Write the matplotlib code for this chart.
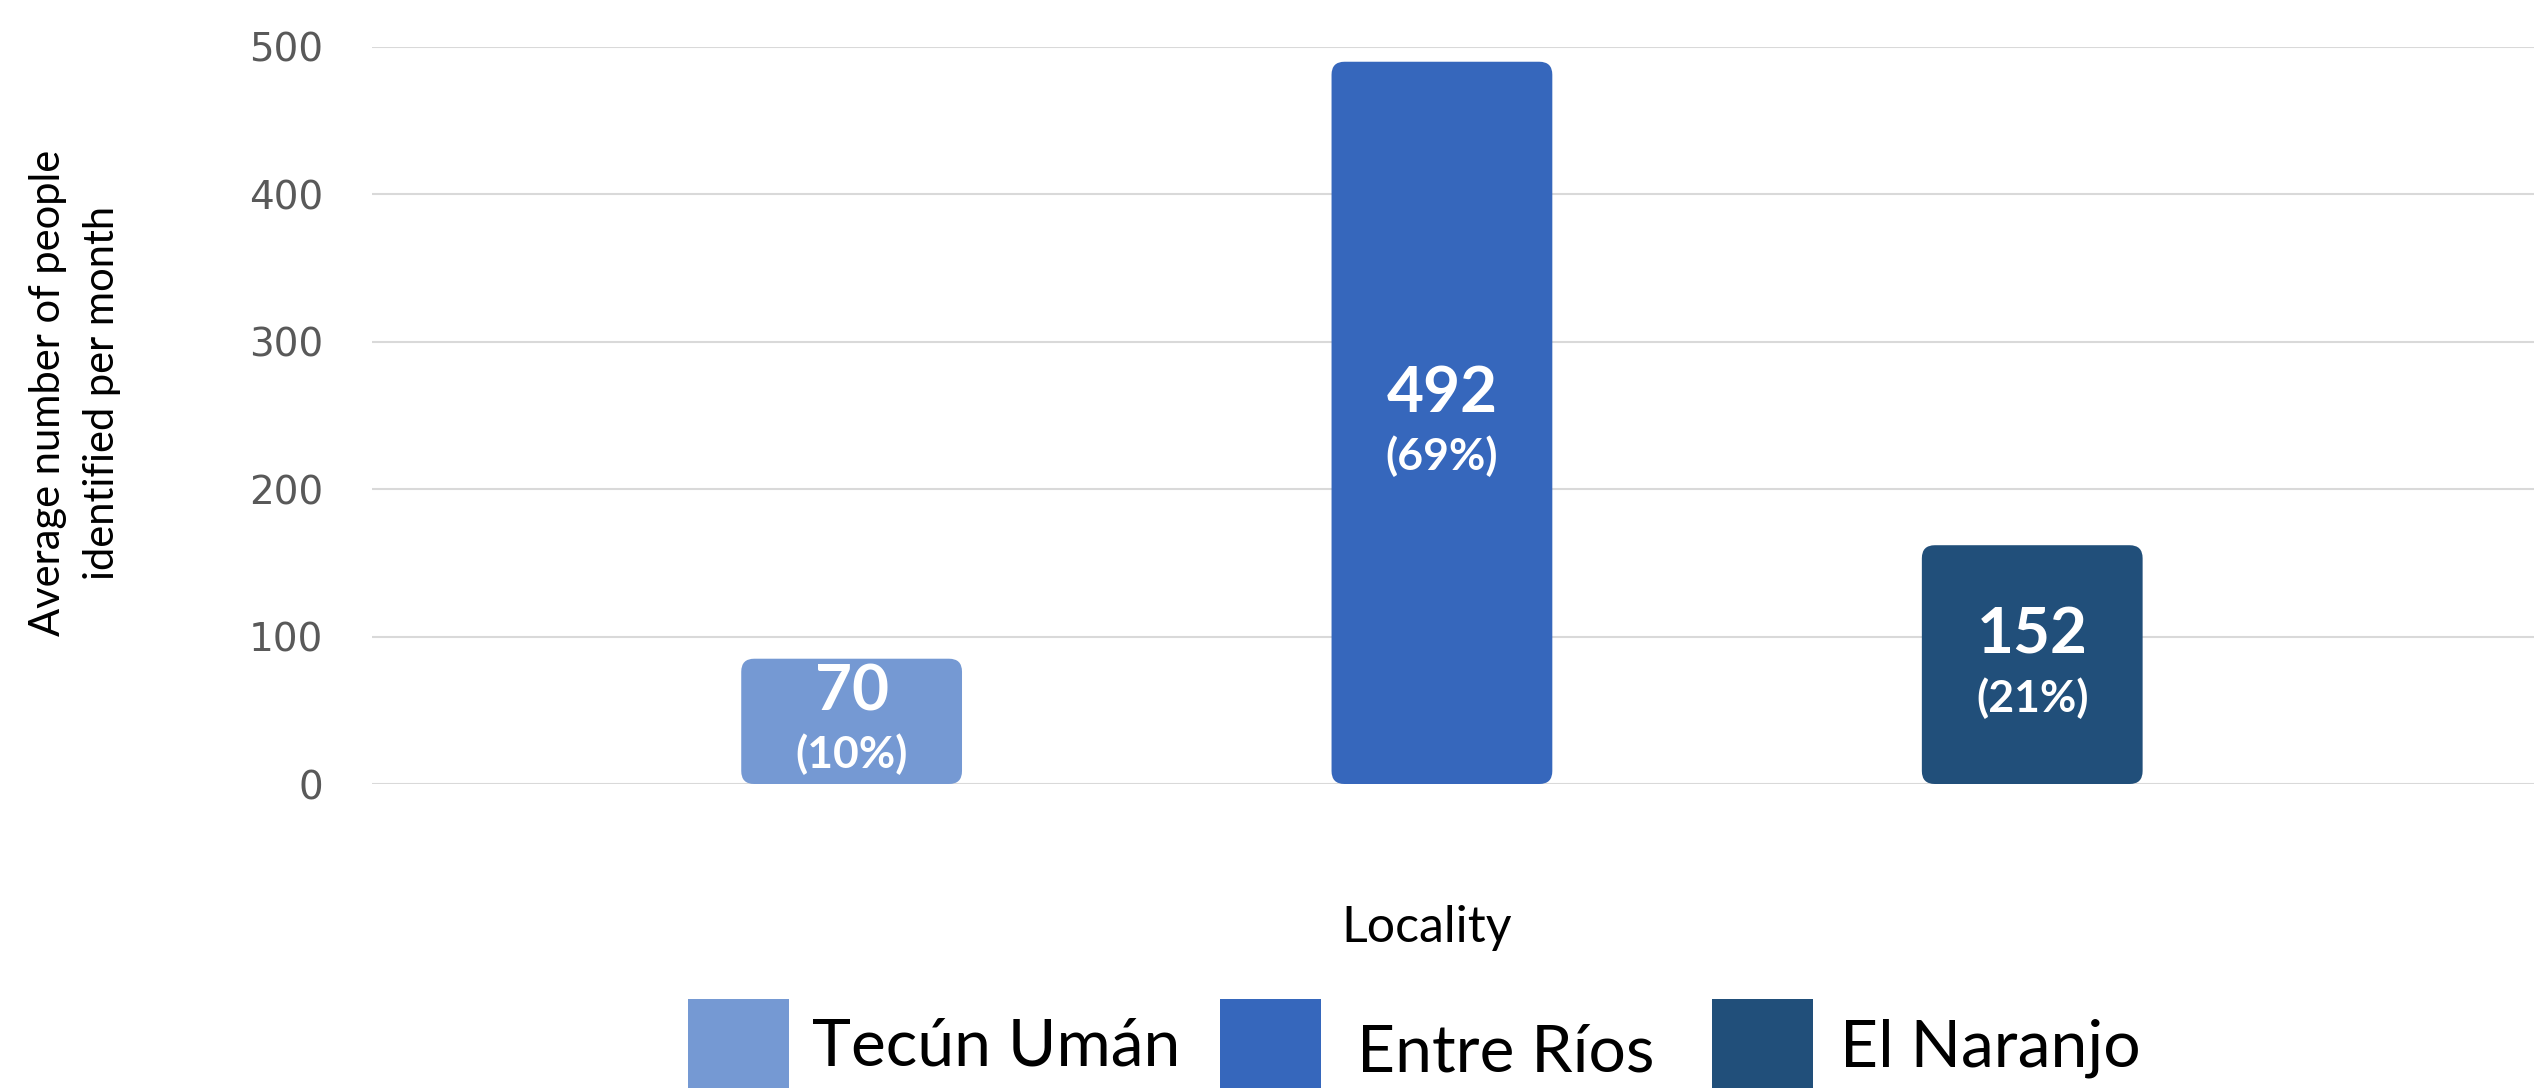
import matplotlib
matplotlib.use('Agg')
import matplotlib.pyplot as plt
from matplotlib.patches import FancyBboxPatch, Rectangle

localities = ['Tecún Umán', 'Entre Ríos', 'El Naranjo']
people = [70, 492, 152]          # printed values
shares = [10, 69, 21]            # printed percentages
bar_heights = [85, 490, 162]     # bar heights as drawn in the original
colors = ['#7599D3', '#3667BC', '#214F7A']
yticks = [0, 100, 200, 300, 400, 500]

W, H = 2534, 1088
fig = plt.figure(figsize=(W / 100, H / 100), dpi=100)
ax = fig.add_axes([372 / W, 1 - 784 / H, 1 - 372 / W, (784 - 47) / H])

x = list(range(len(localities)))
bars = ax.bar(x, bar_heights, width=0.374, color=colors, zorder=2)
# swap plain bars for rounded ones
for b, c in zip(bars, colors):
    b.set_visible(False)
    ax.add_patch(FancyBboxPatch((b.get_x(), 0), b.get_width(), b.get_height(),
                                boxstyle='round,pad=0,rounding_size=0.022',
                                mutation_aspect=400, fc=c, ec='none', zorder=2))

for i, (h, n, s) in enumerate(zip(bar_heights, people, shares)):
    ax.annotate(str(n), (i, h / 2), xytext=(0, 21), textcoords='offset points',
                ha='center', va='center', color='white', fontsize=46,
                fontweight='bold', family='Lato', zorder=3)
    ax.annotate(f'({s}%)', (i, h / 2), xytext=(0, -24), textcoords='offset points',
                ha='center', va='center', color='white', fontsize=32,
                fontweight='bold', family='Lato', zorder=3)

ax.set_xlim(-0.8125, 2.85)
ax.set_ylim(0, 500)
ax.set_yticks(yticks)
ax.set_xticks([])
ax.yaxis.grid(True, color='#D9D9D9', linewidth=1.5)
ax.set_axisbelow(True)
for sp in ax.spines.values():
    sp.set_visible(False)
ax.tick_params(axis='y', length=0, pad=35, labelsize=28, labelcolor='#595959')
ax.patch.set_alpha(0)

fig.text(75 / W, 1 - 393 / H, 'Average number of people\nidentified per month',
         rotation=90, ha='center', va='center', fontsize=30, family='Lato',
         linespacing=1.5)
fig.text(1427 / W, 1 - 942 / H, 'Locality', ha='center', va='baseline',
         fontsize=36, family='Lato')

# legend drawn by hand
patch_left = [688, 1220, 1712]
text_left = [812, 1357, 1840]
text_base = [1066, 1071, 1066]
for name, c, pl, tl, tb in zip(localities, colors, patch_left, text_left, text_base):
    fig.patches.append(Rectangle((pl / W, 1 - 1101 / H), 101 / W, 102 / H,
                                 transform=fig.transFigure, fc=c, ec='none'))
    fig.text(tl / W, 1 - tb / H, name, ha='left', va='baseline',
             fontsize=47.5, family='Lato')

fig.savefig('out.png', dpi=100)
